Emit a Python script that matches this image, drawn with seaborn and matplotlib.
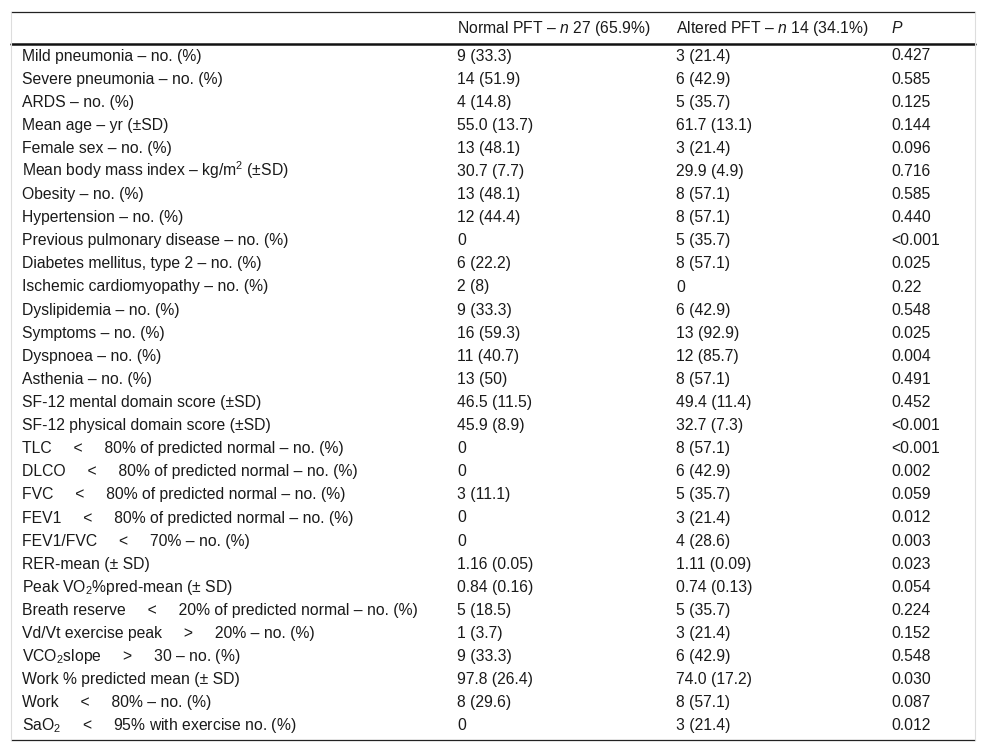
import matplotlib
matplotlib.use("Agg")
import matplotlib.pyplot as plt
import seaborn as sns
import pandas as pd

sns.set_theme(style="white")
plt.rcParams["font.family"] = ["Liberation Sans", "DejaVu Sans"]
plt.rcParams["mathtext.fontset"] = "custom"
plt.rcParams["mathtext.rm"] = "Liberation Sans"
plt.rcParams["mathtext.it"] = "Liberation Sans:italic"
plt.rcParams["mathtext.bf"] = "Liberation Sans:bold"

SP = "     "

headers = ["", "Normal PFT – $n$ 27 (65.9%)", "Altered PFT – $n$ 14 (34.1%)", "$P$"]

labels = [
    "Mild pneumonia – no. (%)",
    "Severe pneumonia – no. (%)",
    "ARDS – no. (%)",
    "Mean age – yr (±SD)",
    "Female sex – no. (%)",
    "Mean body mass index – kg/m$^2$ (±SD)",
    "Obesity – no. (%)",
    "Hypertension – no. (%)",
    "Previous pulmonary disease – no. (%)",
    "Diabetes mellitus, type 2 – no. (%)",
    "Ischemic cardiomyopathy – no. (%)",
    "Dyslipidemia – no. (%)",
    "Symptoms – no. (%)",
    "Dyspnoea – no. (%)",
    "Asthenia – no. (%)",
    "SF-12 mental domain score (±SD)",
    "SF-12 physical domain score (±SD)",
    "TLC" + SP + "<" + SP + "80% of predicted normal – no. (%)",
    "DLCO" + SP + "<" + SP + "80% of predicted normal – no. (%)",
    "FVC" + SP + "<" + SP + "80% of predicted normal – no. (%)",
    "FEV1" + SP + "<" + SP + "80% of predicted normal – no. (%)",
    "FEV1/FVC" + SP + "<" + SP + "70% – no. (%)",
    "RER-mean (± SD)",
    "Peak VO$_2$%pred-mean (± SD)",
    "Breath reserve" + SP + "<" + SP + "20% of predicted normal – no. (%)",
    "Vd/Vt exercise peak" + SP + ">" + SP + "20% – no. (%)",
    "VCO$_2$slope" + SP + ">" + SP + "30 – no. (%)",
    "Work % predicted mean (± SD)",
    "Work" + SP + "<" + SP + "80% – no. (%)",
    "SaO$_2$" + SP + "<" + SP + "95% with exercise no. (%)",
]

normal = [
    "9 (33.3)", "14 (51.9)", "4 (14.8)", "55.0 (13.7)", "13 (48.1)",
    "30.7 (7.7)", "13 (48.1)", "12 (44.4)", "0", "6 (22.2)", "2 (8)",
    "9 (33.3)", "16 (59.3)", "11 (40.7)", "13 (50)", "46.5 (11.5)",
    "45.9 (8.9)", "0", "0", "3 (11.1)", "0", "0", "1.16 (0.05)",
    "0.84 (0.16)", "5 (18.5)", "1 (3.7)", "9 (33.3)", "97.8 (26.4)",
    "8 (29.6)", "0",
]

altered = [
    "3 (21.4)", "6 (42.9)", "5 (35.7)", "61.7 (13.1)", "3 (21.4)",
    "29.9 (4.9)", "8 (57.1)", "8 (57.1)", "5 (35.7)", "8 (57.1)", "0",
    "6 (42.9)", "13 (92.9)", "12 (85.7)", "8 (57.1)", "49.4 (11.4)",
    "32.7 (7.3)", "8 (57.1)", "6 (42.9)", "5 (35.7)", "3 (21.4)",
    "4 (28.6)", "1.11 (0.09)", "0.74 (0.13)", "5 (35.7)", "3 (21.4)",
    "6 (42.9)", "74.0 (17.2)", "8 (57.1)", "3 (21.4)",
]

pvals = [
    "0.427", "0.585", "0.125", "0.144", "0.096", "0.716", "0.585", "0.440",
    "<0.001", "0.025", "0.22", "0.548", "0.025", "0.004", "0.491", "0.452",
    "<0.001", "<0.001", "0.002", "0.059", "0.012", "0.003", "0.023",
    "0.054", "0.224", "0.152", "0.548", "0.030", "0.087", "0.012",
]

table = pd.DataFrame({"label": labels, "normal": normal,
                      "altered": altered, "p": pvals})

W, H = 986, 752
fig = plt.figure(figsize=(W / 100, H / 100), dpi=100)
ax = fig.add_axes([0, 0, 1, 1])
ax.set_xlim(0, W)
ax.set_ylim(H, 0)
ax.axis("off")

col_x = [22, 457, 676, 891]
left, right = 11, 975
top_y, head_y, bottom_y = 12, 43.5, 740
header_base = 33
row0, row_step = 60.5, 23.1
fs = 11.3
txt_color = "#1a1a1a"

# frame lines
ax.plot([left, right], [top_y, top_y], color="#222222", lw=0.9)
ax.plot([left, right], [head_y, head_y], color="#111111", lw=1.8)
ax.plot([left, right], [bottom_y, bottom_y], color="#222222", lw=0.9)
ax.plot([left, left], [top_y, bottom_y], color="#dddddd", lw=0.8)
ax.plot([right, right], [top_y, bottom_y], color="#dddddd", lw=0.8)

for x, h in zip(col_x, headers):
    ax.text(x, header_base, h, fontsize=fs, color=txt_color, va="baseline", ha="left")

for i, row in table.iterrows():
    y = row0 + row_step * i
    for x, key in zip(col_x, ["label", "normal", "altered", "p"]):
        ax.text(x, y, row[key], fontsize=fs, color=txt_color, va="baseline", ha="left")

fig.savefig("out.png", dpi=100, facecolor="white")
